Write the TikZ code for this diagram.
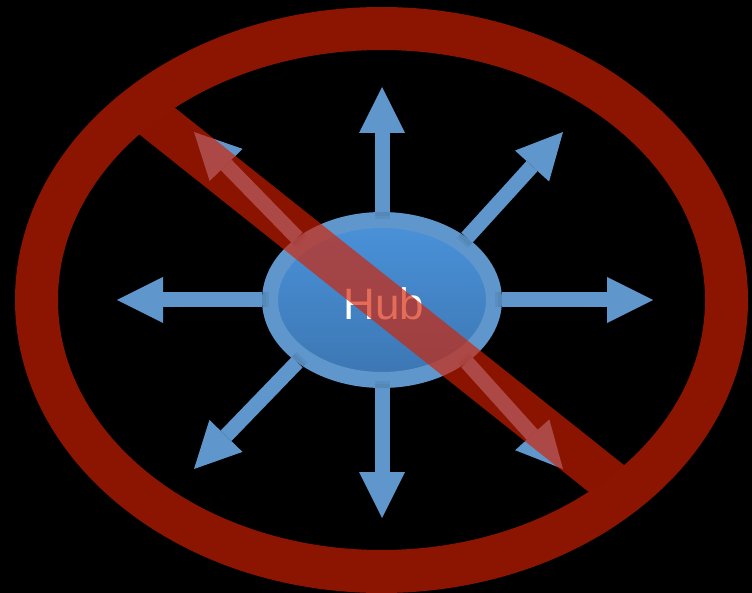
\documentclass[tikz,border=0pt]{standalone}
\usepackage{fontspec}
\newfontfamily\hubfont{Liberation Sans}
\usetikzlibrary{arrows.meta,shapes.geometric,calc}
\definecolor{spokeblue}{RGB}{95,151,204}
\definecolor{hubtop}{RGB}{74,146,218}
\definecolor{hubbot}{RGB}{60,118,178}
\definecolor{ringred}{RGB}{139,21,0}
\definecolor{barred}{RGB}{214,32,0}
\tikzset{
  spoke/.style={draw=spokeblue, line width=15pt,
    -{Triangle[length=46pt,width=46pt,line width=0pt]}},
  spokeshadow/.style={draw=black, line width=15pt, opacity=0.1},
  hubshape/.style={ellipse, draw=spokeblue, line width=16pt,
    top color=hubtop, bottom color=hubbot,
    minimum width=224pt, minimum height=160pt, inner sep=0pt},
  hubtext/.style={font=\hubfont\fontsize{44}{44}\selectfont, text=white, inner sep=0pt}
}
\begin{document}
\begin{tikzpicture}[x=1pt,y=-1pt]
\fill[black] (0,0) rectangle (752,593);
\useasboundingbox (0,0) rectangle (752,593);

% hub
\node[hubshape] (hub) at (382,300) {};

% tips
\coordinate (tN)  at (382,87);
\coordinate (tS)  at (382,518);
\coordinate (tW)  at (117,300);
\coordinate (tE)  at (653,300);
\coordinate (tNE) at (563,132);
\coordinate (tNW) at (194,132);
\coordinate (tSW) at (194,469);
\coordinate (tSE) at (563,469);

\foreach \a/\t in {north/tN, south/tS, west/tW, east/tE,
                   north east/tNE, north west/tNW, south west/tSW, south east/tSE}{
  \draw[spokeshadow] ($(hub.\a)!-4pt!(\t)$) -- ($(hub.\a)!4pt!(\t)$);
  \draw[spokeshadow, opacity=0.06] ($(hub.\a)!-7pt!(\t)$) -- ($(hub.\a)!-4pt!(\t)$);
}

\draw[spoke] (hub.north) -- (tN);
\draw[spoke] (hub.south) -- (tS);
\draw[spoke] (hub.west) -- (tW);
\draw[spoke] (hub.east) -- (tE);
\draw[spoke] (hub.north east) -- (tNE);
\draw[spoke] (hub.north west) -- (tNW);
\draw[spoke] (hub.south west) -- (tSW);
\draw[spoke] (hub.south east) -- (tSE);

\node[hubtext] (label) at (384,304) {Hub};

% prohibition bar (semi-transparent), clipped inside the ring
\begin{scope}
  \clip (381.5,300) ellipse [x radius=330pt, y radius=256pt];
  \coordinate (b1) at (139.4,107);
  \coordinate (b2) at (624.6,493);
  \draw[barred, opacity=0.65, line width=43pt] (b1) -- (b2);
\end{scope}

% ring
\draw[ringred, line width=43pt] (381.5,300) ellipse [x radius=345pt, y radius=271.5pt];
\end{tikzpicture}
\end{document}
